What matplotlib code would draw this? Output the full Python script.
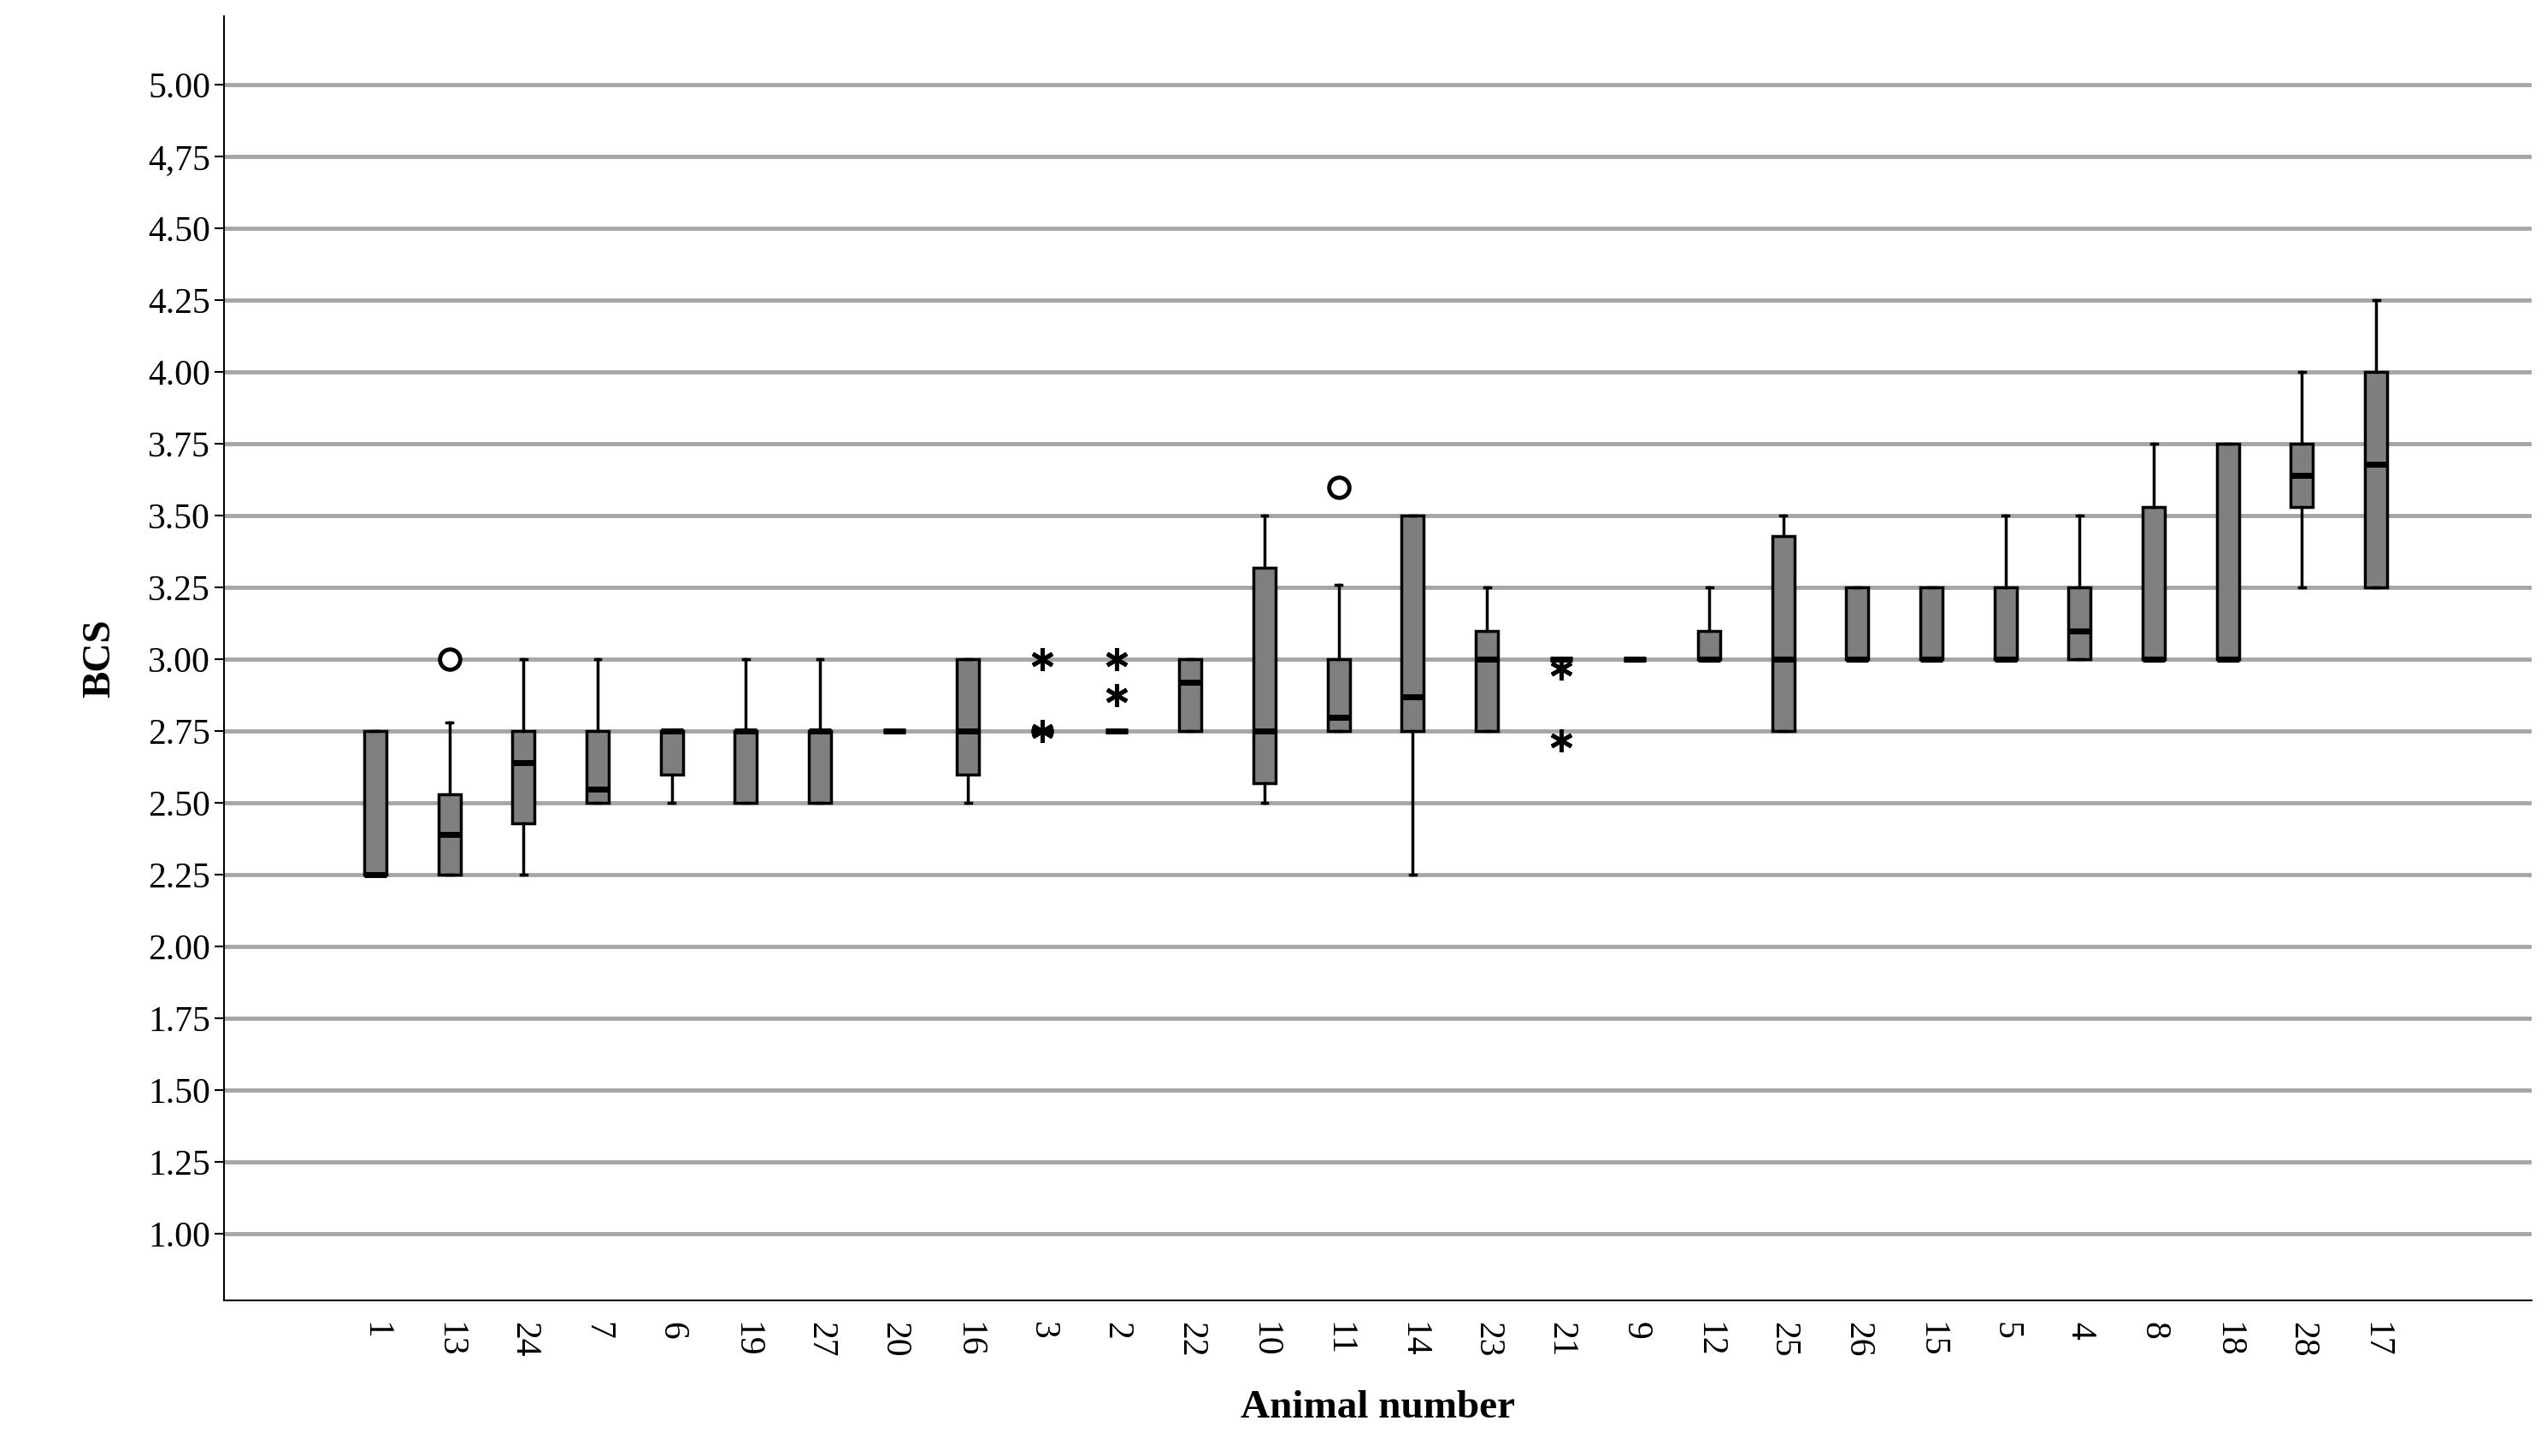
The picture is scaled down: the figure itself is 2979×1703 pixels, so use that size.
import matplotlib
matplotlib.use("Agg")
import matplotlib.pyplot as plt

animals = ["1","13","24","7","6","19","27","20","16","3","2","22","10","11","14","23","21","9","12","25","26","15","5","4","8","18","28","17"]
q1     = [2.25,2.25,2.43,2.50,2.60,2.50,2.50,2.75,2.60,2.75,2.75,2.75,2.57,2.75,2.75,2.75,3.00,3.00,3.00,2.75,3.00,3.00,3.00,3.00,3.00,3.00,3.53,3.25]
med    = [2.25,2.39,2.64,2.55,2.75,2.75,2.75,2.75,2.75,2.75,2.75,2.92,2.75,2.80,2.87,3.00,3.00,3.00,3.00,3.00,3.00,3.00,3.00,3.10,3.00,3.00,3.64,3.68]
q3     = [2.75,2.53,2.75,2.75,2.75,2.75,2.75,2.75,3.00,2.75,2.75,3.00,3.32,3.00,3.50,3.10,3.00,3.00,3.10,3.43,3.25,3.25,3.25,3.25,3.53,3.75,3.75,4.00]
wlo    = [2.25,2.25,2.25,2.50,2.50,2.50,2.50,2.75,2.50,2.75,2.75,2.75,2.50,2.75,2.25,2.75,3.00,3.00,3.00,2.75,3.00,3.00,3.00,3.00,3.00,3.00,3.25,3.25]
whi    = [2.75,2.78,3.00,3.00,2.75,3.00,3.00,2.75,3.00,2.75,2.75,3.00,3.50,3.26,3.50,3.25,3.00,3.00,3.25,3.50,3.25,3.25,3.50,3.50,3.75,3.75,4.00,4.25]
circle_out = {"13":[3.00], "11":[3.60]}
star_out = {"3":[3.00,2.75], "2":[3.00,2.875], "21":[2.97,2.72]}
yticks = [1.00,1.25,1.50,1.75,2.00,2.25,2.50,2.75,3.00,3.25,3.50,3.75,4.00,4.25,4.50,4.75,5.00]
ylabels = ["1.00","1.25","1.50","1.75","2.00","2.25","2.50","2.75","3.00","3.25","3.50","3.75","4.00","4.25","4.50","4,75","5.00"]

plt.rcParams['font.family'] = ['Liberation Serif', 'DejaVu Serif']
fig = plt.figure(figsize=(29.79, 17.03), dpi=100)
ax = fig.add_axes([0.088, 0.107, 0.906, 0.882])

stats = []
for i, a in enumerate(animals):
    stats.append(dict(label=a, q1=q1[i], med=med[i], q3=q3[i], whislo=wlo[i], whishi=whi[i], fliers=[]))
pos = list(range(1, len(animals) + 1))
ax.bxp(stats, positions=pos, widths=0.3, patch_artist=True, showfliers=False,
       boxprops=dict(facecolor="#7f7f7f", edgecolor="black", linewidth=2.5),
       medianprops=dict(color="black", linewidth=5),
       whiskerprops=dict(color="black", linewidth=2.5),
       capprops=dict(color="black", linewidth=2.5), capwidths=0.08, zorder=3)

for a, vals in circle_out.items():
    x = animals.index(a) + 1
    ax.plot([x]*len(vals), vals, 'o', mfc='white', mec='black', mew=3.5, ms=17, zorder=4)
for a, vals in star_out.items():
    x = animals.index(a) + 1
    ax.plot([x]*len(vals), vals, linestyle='none', marker=(6, 2, 0), color='black', mew=3.5, ms=19, zorder=4)

ax.set_xlim(-1.04, 30.1)
ax.set_ylim(0.77, 5.24)
ax.set_yticks(yticks)
ax.set_yticklabels(ylabels, fontsize=30)
ax.set_xticks(pos)
ax.set_xticklabels(animals, rotation=-90, fontsize=30)
ax.tick_params(axis='x', length=0, pad=18)
ax.tick_params(axis='y', length=8, width=1.5)
ax.grid(axis='y', color='#a6a6a6', linewidth=3.5, zorder=0)
ax.set_axisbelow(True)
for s in ['top', 'right']:
    ax.spines[s].set_visible(False)
for s in ['left', 'bottom']:
    ax.spines[s].set_linewidth(1.5)
ax.set_ylabel("BCS", fontsize=34, fontweight='bold', labelpad=25)
ax.set_xlabel("Animal number", fontsize=34, fontweight='bold', labelpad=28)
fig.savefig("out.png", dpi=100)
